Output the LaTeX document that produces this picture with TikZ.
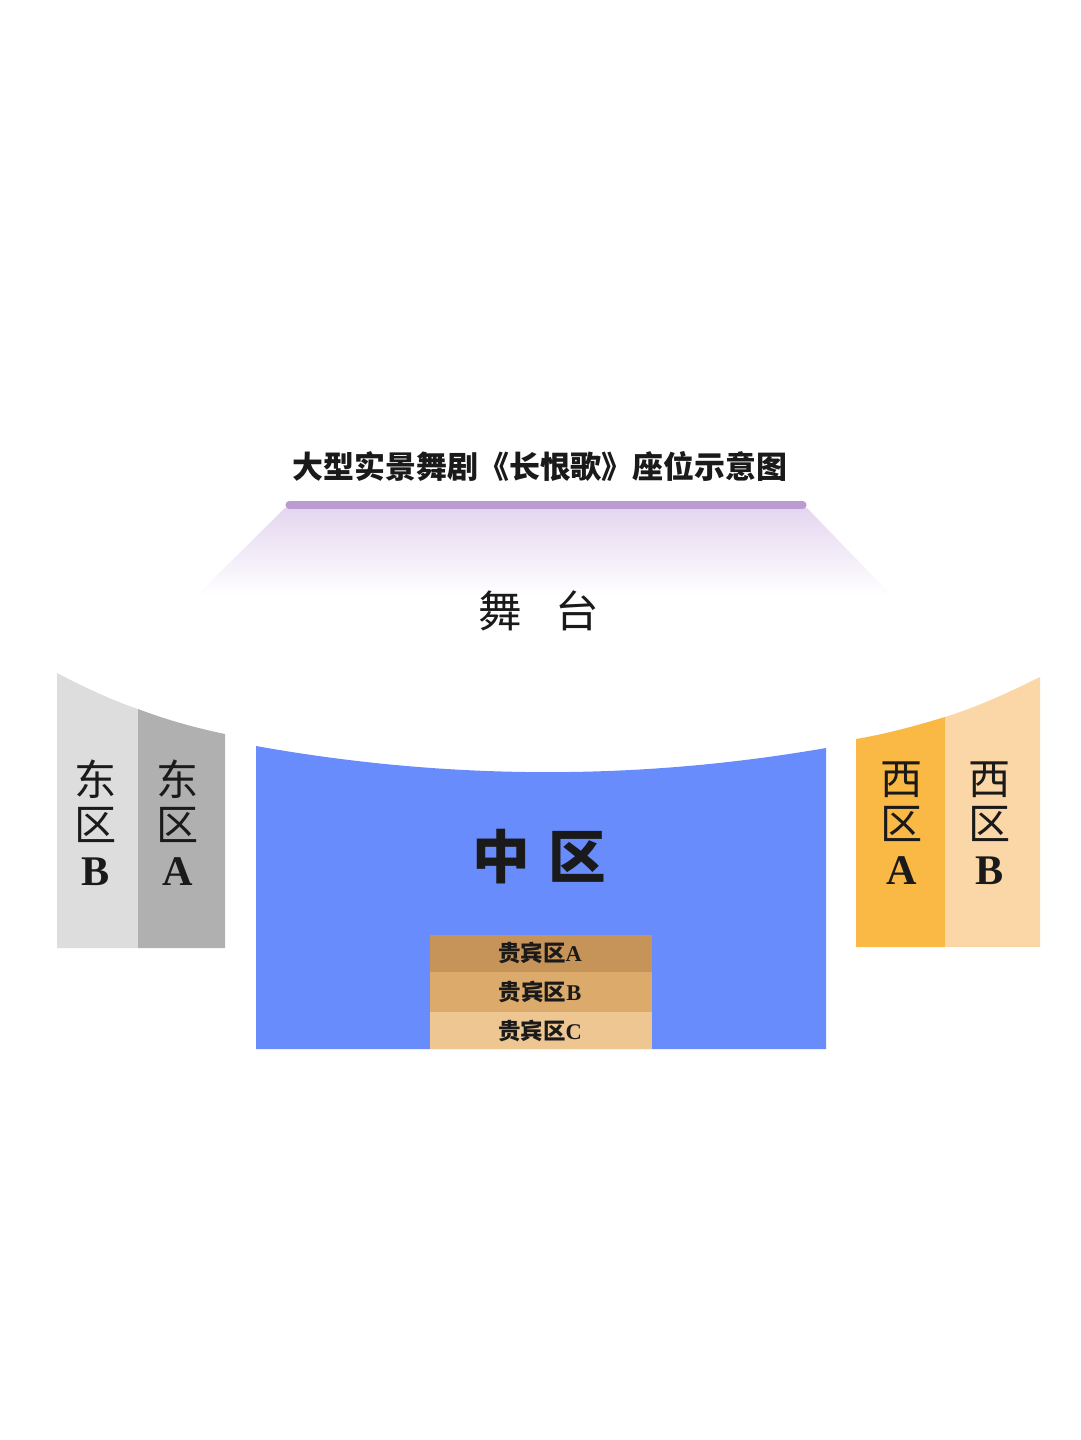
\documentclass[tikz,border=0pt]{standalone}
\usepackage{fontspec}
\setmainfont{Liberation Serif}
\newfontfamily\cjk{Noto Sans CJK SC}
\usetikzlibrary{positioning}
\definecolor{inktext}{RGB}{26,26,26}
\definecolor{stageline}{RGB}{186,156,210}
\definecolor{stagetop}{RGB}{228,214,240}
\definecolor{stagemid}{RGB}{244,237,248}
\definecolor{eastB}{RGB}{221,221,221}
\definecolor{eastA}{RGB}{176,176,176}
\definecolor{midzone}{RGB}{104,140,252}
\definecolor{westA}{RGB}{250,184,68}
\definecolor{westB}{RGB}{251,214,166}
\definecolor{vipA}{RGB}{198,148,88}
\definecolor{vipB}{RGB}{220,170,106}
\definecolor{vipC}{RGB}{238,198,146}
\newcommand*{\vlabel}[3]{#1\\#2\\{\rmfamily\bfseries #3}}
\tikzset{
 zonelabel/.style={text=inktext, font=\cjk\fontsize{30}{32}\selectfont, align=center, inner sep=0pt},
 viplabel/.style={text=inktext, font=\cjk\bfseries\fontsize{16}{18}\selectfont, inner sep=0pt}
}

\begin{document}
\begin{tikzpicture}[x=0.025cm, y=-0.025cm]
 \fill[white] (0,0) rectangle (1080,1440);
 \useasboundingbox (0,0) rectangle (1080,1440);

 % stage
 \shade[top color=stagetop, middle color=stagemid, bottom color=white] (285,508) -- (807,508) -- (892,596) -- (196,596) -- cycle;
 \draw[stageline, line width=5pt, line cap=round] (289,505) coordinate (sl) -- (803,505) coordinate (sr);
 \node[text=inktext, font=\cjk\bfseries\fontsize{22}{24}\selectfont, inner sep=0pt] (title) at (540,467) {大型实景舞剧《长恨歌》座位示意图};
 \node[text=inktext, font=\cjk\fontsize{31}{33}\selectfont, inner sep=0pt] (stage) at (539,611) {舞\hspace{24pt}台};

 % east
 \fill[eastB] (57,948) -- (57,673) .. controls (84,687) and (111,700) .. (138,709) -- (138,948) -- cycle;
 \fill[eastA] (138,948) -- (138,709) .. controls (167,720) and (196,728) .. (225,734) -- (225,948) -- cycle;
 \node[zonelabel] (eBlbl) at (96,823) {\vlabel{东}{区}{B}};
 \node[zonelabel] (eAlbl) at (178,823) {\vlabel{东}{区}{A}};

 % middle
 \fill[midzone] (256,1049) -- (256,746) .. controls (446,780) and (636,781) .. (826,748) -- (826,1049) -- cycle;
 \node[text=inktext, font=\cjk\bfseries\fontsize{41}{43}\selectfont, inner sep=0pt] (midlbl) at (539,857) {中\hspace{13pt}区};

 % west
 \fill[westA] (856,947) -- (856,739) .. controls (886,734) and (915,726) .. (945,717) -- (945,947) -- cycle;
 \fill[westB] (945,947) -- (945,717) .. controls (977,707) and (1008,693) .. (1040,677) -- (1040,947) -- cycle;
 \node[zonelabel] (wAlbl) at (902,823) {\vlabel{西}{区}{A}};
 \node[zonelabel] (wBlbl) at (990,823) {\vlabel{西}{区}{B}};

 % vip
 \fill[vipA] (430,935) rectangle (652,972);
 \fill[vipB] (430,972) rectangle (652,1012);
 \fill[vipC] (430,1012) rectangle (652,1049);
 \node[viplabel] (vipAlbl) at (540,953) {贵宾区{\rmfamily\bfseries A}};
 \node[viplabel] (vipBlbl) at (540,992) {贵宾区{\rmfamily\bfseries B}};
 \node[viplabel] (vipClbl) at (540,1031) {贵宾区{\rmfamily\bfseries C}};
\end{tikzpicture}
\end{document}
